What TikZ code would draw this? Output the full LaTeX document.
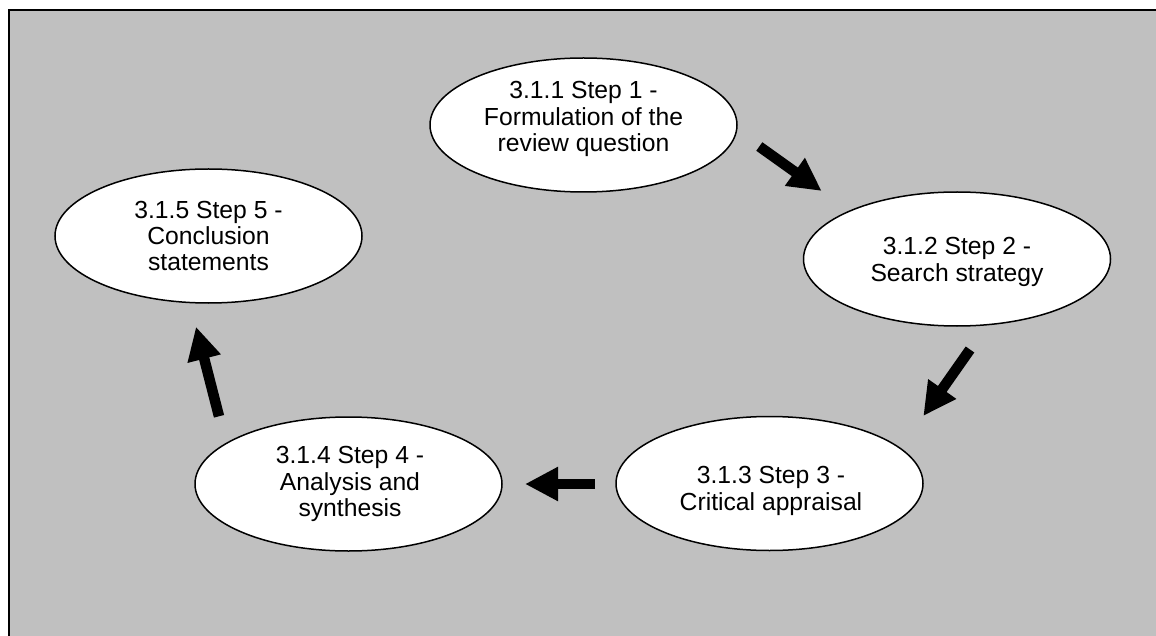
\documentclass[tikz,border=0pt]{standalone}
\usepackage{fontspec}
\setmainfont{Liberation Sans}
\usetikzlibrary{shapes.geometric,arrows.meta}
\definecolor{panel}{RGB}{192,192,192}
\tikzset{
  stage/.style={ellipse, draw=black, line width=1.5pt, fill=white,
    minimum width=307pt, minimum height=134pt, inner sep=0pt},
  stagetext/.style={align=center, inner sep=0pt,
    font=\fontsize{24.7pt}{26.4pt}\selectfont},
  flow/.style={line width=10.5pt, -{Triangle[width=32pt,length=33pt]}}
}
\begin{document}
\begin{tikzpicture}[x=1pt,y=-1pt]
\useasboundingbox (0,0) rectangle (1156,636);
\fill[white] (0,0) rectangle (1156,636);
% grey panel with its top and left frame lines
\fill[panel] (9,10) rectangle (1156,636);
\draw[line width=2pt] (9,636) -- (9,10) -- (1156,10);

% the five review stages
\node[stage] (s1) at (583.5,125) {};
\node[stage] (s2) at (957,259) {};
\node[stage] (s3) at (769.5,483.5) {};
\node[stage] (s4) at (348.5,484) {};
\node[stage] (s5) at (208.5,236) {};

\node[stagetext, yshift=6pt] (t1) at (s1.center) {3.1.1 Step 1 -\\Formulation of the\\review question};
\node[stagetext, yshift=-3pt] (t2) at (s2.center) {3.1.2 Step 2 -\\Search strategy};
\node[stagetext, yshift=-7.5pt, xshift=1.5pt] (t3) at (s3.center) {3.1.3 Step 3 -\\Critical appraisal};
\node[stagetext, xshift=1.5pt] (t4) at (s4.center) {3.1.4 Step 4 -\\Analysis and\\synthesis};
\node[stagetext] (t5) at (s5.center) {3.1.5 Step 5 -\\Conclusion\\statements};

% arrow end points between the stages
\coordinate (a1s) at (759.3,146.5);
\coordinate (a1e) at (821.7,191);
\coordinate (a2s) at (970,349.5);
\coordinate (a2e) at (923.3,416);
\coordinate (a3s) at (595,484);
\coordinate (a3e) at (525,484);
\coordinate (a4s) at (219,416.3);
\coordinate (a4e) at (196,326.7);

\draw[flow] (a1s) -- (a1e);
\draw[flow] (a2s) -- (a2e);
\draw[flow] (a3s) -- (a3e);
\draw[flow] (a4s) -- (a4e);
\end{tikzpicture}
\end{document}
